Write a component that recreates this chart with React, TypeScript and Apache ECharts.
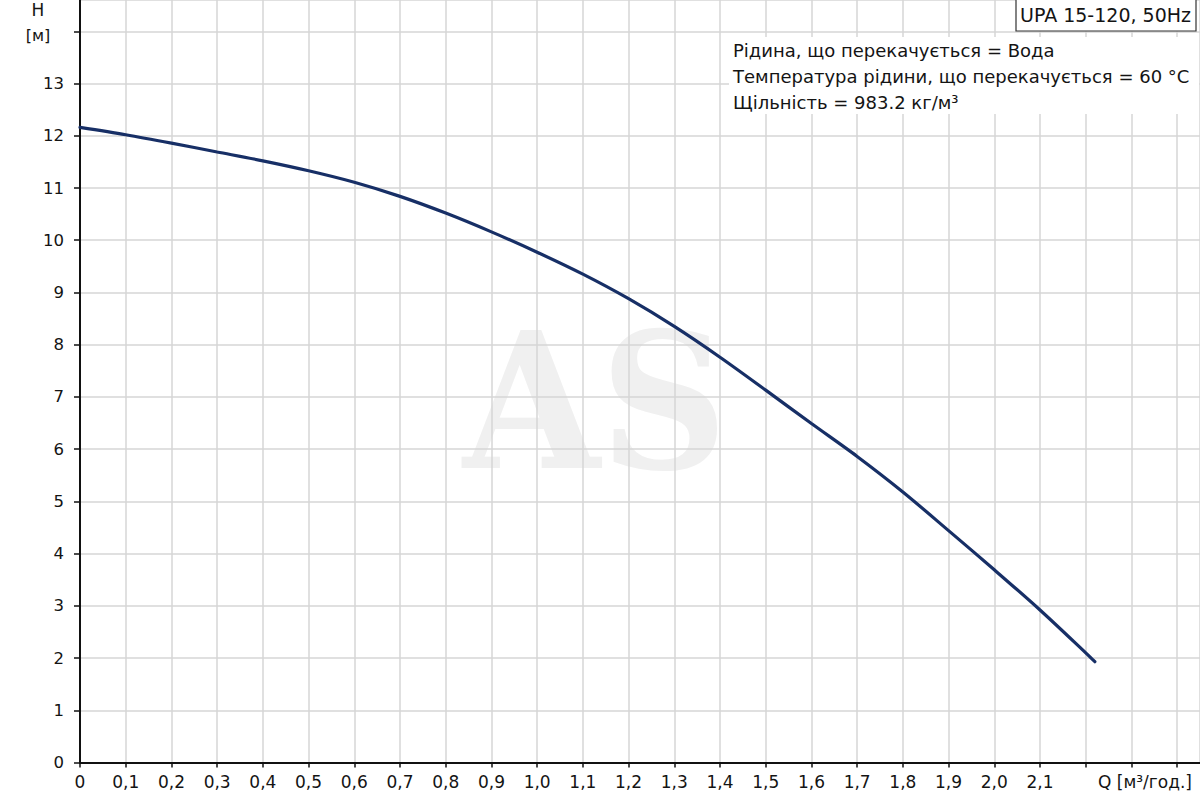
import React, { useEffect, useRef } from "react";
import * as echarts from "echarts";

const flowQ = [0, 0.1, 0.2, 0.3, 0.4, 0.5, 0.6, 0.7, 0.8, 0.9, 1.0, 1.1, 1.2, 1.3, 1.4, 1.5, 1.6, 1.7, 1.8, 1.9, 2.0, 2.1, 2.2, 2.22];
const headH = [12.16, 12.02, 11.86, 11.69, 11.52, 11.33, 11.11, 10.84, 10.52, 10.16, 9.77, 9.35, 8.88, 8.35, 7.76, 7.13, 6.49, 5.86, 5.18, 4.44, 3.69, 2.92, 2.1, 1.93];
const title = "UPA 15-120, 50Hz";
const infoLines = [
  "Рідина, що перекачується = Вода",
  "Температура рідини, що перекачується = 60 °C",
  "Щільність = 983.2 кг/м³",
];
const xUnit = "Q [м³/год.]";
const yName = "H";
const yUnit = "[м]";
const watermark = "AS";

const FONT = "'DejaVu Sans', Verdana, sans-serif";
const TXT = "#141414";

export default function App() {
  const ref = useRef<HTMLDivElement>(null);
  useEffect(() => {
    if (!ref.current) return;
    const chart = echarts.init(ref.current, null, { renderer: "svg" });
    const data = flowQ.map((q, i) => [q, headH[i]]);
    chart.setOption({
      animation: false,
      backgroundColor: "#ffffff",
      grid: { left: 80, top: 0, width: 1124, height: 762.5, containLabel: false },
      xAxis: {
        type: "value",
        min: 0,
        max: 2.45,
        interval: 0.1,
        axisLine: { show: true, onZero: false, lineStyle: { color: "#111", width: 2 } },
        axisTick: { show: true, inside: false, length: 5, lineStyle: { color: "#111", width: 1.5 } },
        splitLine: { show: true, lineStyle: { color: "#d6d6d6", width: 1.5 } },
        axisLabel: {
          color: TXT,
          fontFamily: FONT,
          fontSize: 17,
          margin: 11,
          showMaxLabel: false,
          formatter: (v: number) => {
            const r = Math.round(v * 10) / 10;
            if (r > 2.15) return "";
            if (r === 0) return "0";
            return r.toFixed(1).replace(".", ",");
          },
        },
      },
      yAxis: {
        type: "value",
        min: 0,
        max: 14.6,
        interval: 1,
        axisLine: { show: true, onZero: false, lineStyle: { color: "#111", width: 2 } },
        axisTick: { show: true, inside: false, length: 6, lineStyle: { color: "#111", width: 1.5 } },
        splitLine: { show: true, lineStyle: { color: "#d6d6d6", width: 1.5 } },
        axisLabel: {
          color: TXT,
          fontFamily: FONT,
          fontSize: 16.5,
          margin: 16,
          showMaxLabel: false,
          formatter: (v: number) => (v >= 13.5 ? "" : String(Math.round(v))),
        },
      },
      graphic: [
        {
          type: "text",
          z: -100,
          x: 463,
          y: 306,
          scaleX: 0.93,
          silent: true,
          style: {
            text: watermark,
            font: "bold 190px 'DejaVu Serif', 'Liberation Serif', serif",
            fill: "#f0f0f0",
          },
        },
        {
          type: "rect",
          shape: { x: 729, y: 37, width: 470, height: 77 },
          style: { fill: "#ffffff" },
          z: 10,
        },
        ...infoLines.map((t, i) => ({
          type: "text",
          x: 733,
          y: 50 + i * 26,
          z: 11,
          style: {
            text: t,
            font: `18px ${FONT}`,
            fill: TXT,
            textVerticalAlign: "middle",
          },
        })),
        {
          type: "rect",
          shape: { x: 1016, y: -1, width: 180, height: 32 },
          style: { fill: "#ffffff", stroke: "#333", lineWidth: 1.2 },
          z: 10,
        },
        {
          type: "text",
          x: 1020,
          y: 15,
          z: 11,
          style: { text: title, font: `19px ${FONT}`, fill: TXT, textVerticalAlign: "middle" },
        },
        {
          type: "text",
          x: 1145,
          y: 782,
          z: 11,
          style: { text: xUnit, font: `17px ${FONT}`, fill: TXT, textAlign: "center", textVerticalAlign: "middle" },
        },
        {
          type: "text",
          x: 38,
          y: 10,
          z: 11,
          style: { text: yName, font: `17px ${FONT}`, fill: TXT, textAlign: "center", textVerticalAlign: "middle" },
        },
        {
          type: "text",
          x: 38,
          y: 35,
          z: 11,
          style: { text: yUnit, font: `16px ${FONT}`, fill: TXT, textAlign: "center", textVerticalAlign: "middle" },
        },
      ],
      series: [
        {
          type: "line",
          data,
          smooth: 0.3,
          showSymbol: false,
          symbol: "none",
          z: 5,
          lineStyle: { color: "#172f66", width: 3.2, cap: "round" },
        },
      ],
    });
    return () => chart.dispose();
  }, []);
  return (
    <div
      ref={ref}
      style={{ position: "fixed", left: 0, top: 0, width: 1200, height: 800, background: "#fff" }}
    />
  );
}
